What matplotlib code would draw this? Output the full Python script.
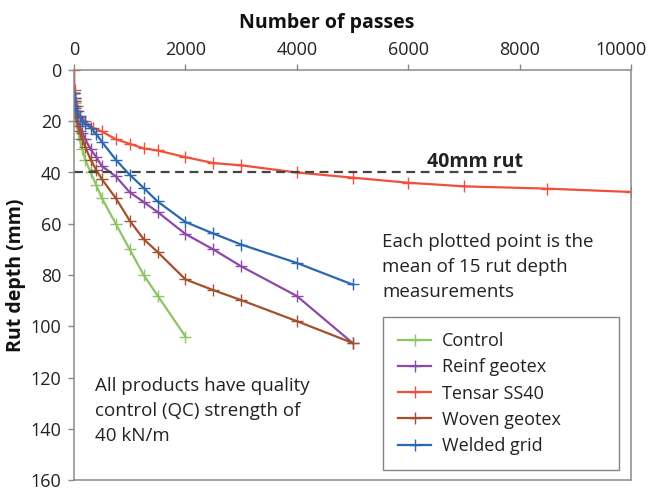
import matplotlib
matplotlib.use("Agg")
import matplotlib.pyplot as plt
import matplotlib.transforms as mtransforms

plt.rcParams['font.family'] = ['Open Sans', 'DejaVu Sans']

# rut depth (mm) against number of passes for each product
control_x = [0, 10, 25, 50, 100, 150, 200, 300, 400, 500, 750, 1000, 1250, 1500, 2000]
control_y = [9, 13, 18, 22, 27, 31, 35, 40, 45, 50, 60, 70, 80, 88, 104]

reinf_x = [0, 10, 25, 50, 100, 150, 200, 300, 400, 500, 750, 1000, 1250, 1500, 2000, 2500, 3000, 4000, 5000]
reinf_y = [9, 12, 15, 18, 22, 24.5, 27, 31, 34, 37.5, 41.5, 47.7, 51.5, 55.4, 64, 70, 76.6, 88.2, 106.5]

tensar_x = [0, 10, 25, 50, 75, 100, 200, 350, 500, 750, 1000, 1250, 1500, 2000, 2500, 3000, 4000, 5000, 6000, 7000, 8500, 10000]
tensar_y = [0, 8, 11, 14, 16, 18, 20, 22.7, 24, 27, 28.8, 30.6, 31.4, 34, 36.3, 37.2, 40, 42, 44, 45.4, 46.3, 47.6]

woven_x = [0, 10, 25, 50, 100, 150, 200, 300, 400, 500, 750, 1000, 1250, 1500, 2000, 2500, 3000, 4000, 5000]
woven_y = [9, 12, 16, 20, 24, 27, 30, 35, 39, 42.6, 50, 58.8, 66, 71, 81.7, 85.9, 89.8, 98, 106.5]

welded_x = [0, 10, 25, 50, 100, 150, 200, 300, 400, 500, 750, 1000, 1250, 1500, 2000, 2500, 3000, 4000, 5000]
welded_y = [9, 11, 14, 16, 18.5, 20, 21, 22.5, 25, 28, 35, 40.9, 46, 51.3, 59.3, 63.8, 68.1, 75.3, 83.7]

series = [
    ("Control", control_x, control_y, "#8dc464"),
    ("Reinf geotex", reinf_x, reinf_y, "#8c4aa8"),
    ("Tensar SS40", tensar_x, tensar_y, "#f0503a"),
    ("Woven geotex", woven_x, woven_y, "#a2502e"),
    ("Welded grid", welded_x, welded_y, "#2c68b2"),
]

rut_limit = 40
rut_line_x = [0, 8000]

fig = plt.figure(figsize=(6.51, 4.9), dpi=100)
ax = fig.add_axes([74 / 651, 1 - 480 / 490, 557 / 651, 410 / 490])

for name, xs, ys, col in series:
    ax.plot(xs, ys, color=col, lw=1.6, marker='+', ms=8, mew=1.0, label=name)

# 40mm rut line
ax.plot(rut_line_x, [rut_limit, rut_limit], color='#444444', lw=1.6, ls=(0, (4, 2.5)))
ax.text(7200, 35.8, "40mm rut", ha='center', va='center', fontsize=14, fontweight='bold', color='#222222')

ax.set_xlim(0, 10000)
ax.set_ylim(160, 0)
ax.set_xticks(range(0, 10001, 2000))
ax.set_yticks(range(0, 161, 20))
ax.xaxis.tick_top()
ax.tick_params(axis='both', direction='out', length=4, width=1, color='#888888',
               labelsize=13, labelcolor='#222222')
ax.tick_params(axis='x', pad=4)
ax.tick_params(axis='y', pad=5)
for sp in ax.spines.values():
    sp.set_color('#8c8c8c')
    sp.set_linewidth(1.1)

# last x label sits a bit inside the right edge
last = ax.get_xticklabels()[-1]
last.set_transform(last.get_transform() + mtransforms.ScaledTranslation(-10 / 100, 0, fig.dpi_scale_trans))

ax.text(5530, 77, "Each plotted point is the\nmean of 15 rut depth\nmeasurements",
        ha='left', va='center', fontsize=13.5, color='#222222', linespacing=1.5)
ax.text(377, 133, "All products have quality\ncontrol (QC) strength of\n40 kN/m",
        ha='left', va='center', fontsize=13.5, color='#222222', linespacing=1.5)

leg = ax.legend(loc='upper left', bbox_to_anchor=(383 / 651, 1 - 466 / 490, 236 / 651, 149 / 490),
                bbox_transform=fig.transFigure, mode='expand', fontsize=13, frameon=True,
                fancybox=False, handlelength=1.8, handletextpad=0.6, labelspacing=0.45,
                borderpad=0.85, borderaxespad=0)
leg.get_frame().set_edgecolor('#666666')
leg.get_frame().set_linewidth(1.0)
for t in leg.get_texts():
    t.set_color('#222222')

fig.text(327 / 651, 1 - 23 / 490, "Number of passes", ha='center', va='center',
         fontsize=14, fontweight='bold', color='#111111')
fig.text(16 / 651, 1 - 275 / 490, "Rut depth (mm)", ha='center', va='center', rotation=90,
         fontsize=14, fontweight='bold', color='#111111')

plt.savefig("out.png", dpi=100)
